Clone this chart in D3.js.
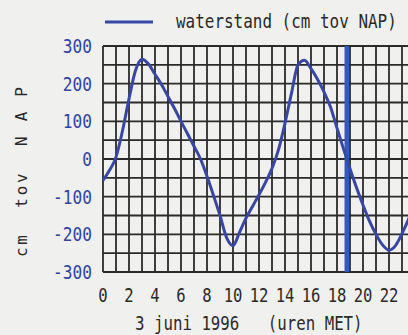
<!DOCTYPE html>
<html><head><meta charset="utf-8">
<script src="https://cdn.jsdelivr.net/npm/d3@7"></script>
<style>
html,body{margin:0;padding:0;background:#f0f0ee;overflow:hidden}
svg{display:block}
text{font-family:"DejaVu Sans Mono",monospace;white-space:pre}
</style></head><body>
<svg id="c" width="408" height="335"></svg>
<script>
const hours = [0,0.5,1,1.5,2,2.5,3,3.5,4,4.5,5,5.5,6,6.5,7,7.5,8,8.5,9,9.5,10,10.5,11,11.5,12,12.5,13,13.5,14,14.5,15,15.5,16,16.5,17,17.5,18,18.5,19,19.5,20,20.5,21,21.5,22,22.5,23,23.5,24];
const waterstand = [-57,-30,5,75,160,235,265,252,225,198,166,134,100,67,34,0,-46,-97,-150,-208,-230,-195,-157,-126,-95,-62,-25,25,95,175,250,262,240,212,178,138,82,27,-26,-76,-122,-165,-200,-228,-242,-230,-198,-160,-115];
const xTicks = [0,2,4,6,8,10,12,14,16,18,20,22];
const yTicks = [300,200,100,0,-100,-200,-300];
const markerHour = 18.75;
const legendLabel = "waterstand (cm tov NAP)";
const xTitle = "3 juni 1996   (uren MET)";
const yTitle = "cm  tov  N A P";

const svg = d3.select("#c");
const x = d3.scaleLinear().domain([0,24]).range([103,415]);
const y = d3.scaleLinear().domain([-300,300]).range([272,46]);

const grid = svg.append("g").attr("stroke","#2a2a2a").attr("stroke-width",1.8);
grid.selectAll("line.v").data(d3.range(0,25,1)).join("line")
  .attr("x1",d=>x(d)).attr("x2",d=>x(d)).attr("y1",y(300)).attr("y2",y(-300));
grid.selectAll("line.h").data(d3.range(-300,301,50)).join("line")
  .attr("y1",d=>y(d)).attr("y2",d=>y(d)).attr("x1",x(0)).attr("x2",x(24));

// marker
svg.append("line").attr("x1",x(markerHour)).attr("x2",x(markerHour))
  .attr("y1",y(300)).attr("y2",y(-300)).attr("stroke","#2f5cbf").attr("stroke-width",4.5);

// curve
const line = d3.line().x((d,i)=>x(hours[i])).y(d=>y(d)).curve(d3.curveMonotoneX);
svg.append("path").datum(waterstand).attr("d",line).attr("fill","none")
  .attr("stroke","#3747a3").attr("stroke-width",3).attr("stroke-linejoin","round");

// y labels
svg.append("g").selectAll("text").data(yTicks).join("text")
  .attr("transform",d=>`translate(92,${y(d)+7}) scale(0.85,1)`)
  .attr("text-anchor","end").attr("font-size",19).attr("fill","#2f44a3").text(d=>d);

// x labels
svg.append("g").selectAll("text").data(xTicks).join("text")
  .attr("transform",d=>`translate(${x(d)},${302}) scale(0.82,1)`)
  .attr("text-anchor","middle").attr("font-size",19).attr("fill","#2a2a2a").text(d=>d);

// x title
svg.append("text").attr("transform","translate(135,330) scale(0.83,1)")
  .attr("font-size",19).attr("fill","#2a2a2a").text(xTitle);

// y title
svg.append("text").attr("transform","translate(27,257) rotate(-90)")
  .attr("font-size",16).attr("fill","#2a2a2a").attr("textLength",170).text(yTitle);

// legend
svg.append("line").attr("x1",105).attr("x2",153).attr("y1",22).attr("y2",22)
  .attr("stroke","#3747a3").attr("stroke-width",3);
svg.append("text").attr("transform","translate(176,28) scale(0.84,1)")
  .attr("font-size",19).attr("fill","#2a2a2a").text(legendLabel);
</script></body></html>
